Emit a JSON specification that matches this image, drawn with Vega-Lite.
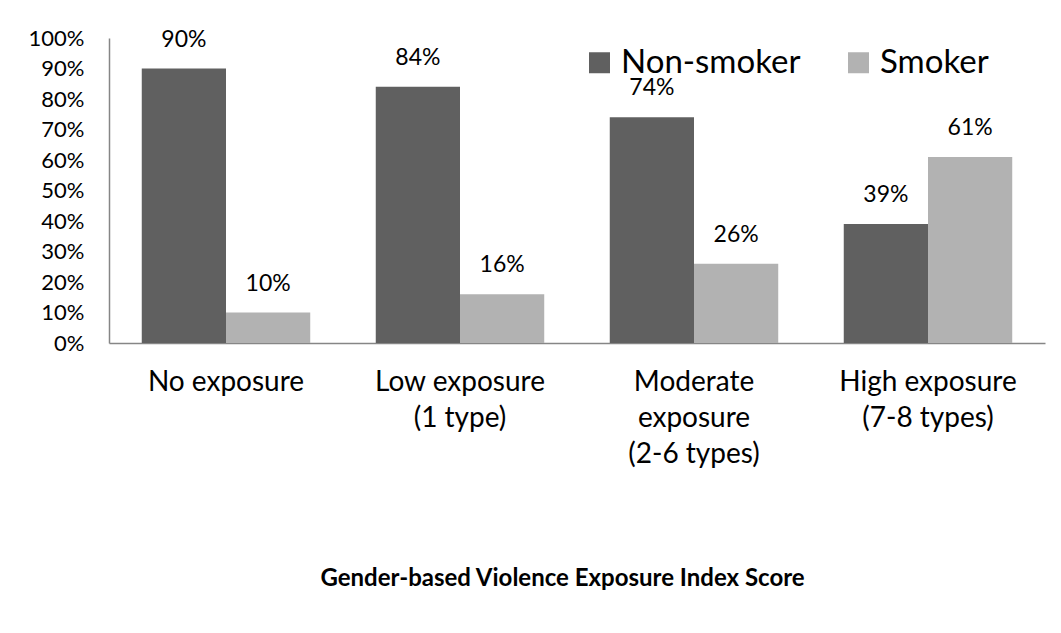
{
  "$schema": "https://vega.github.io/schema/vega-lite/v6.json",
  "autosize": "none",
  "width": 936,
  "height": 305,
  "padding": {"left": 109, "top": 38, "right": 16, "bottom": 290},
  "background": "white",
  "config": {
    "view": {"stroke": null},
    "font": "Lato"
  },
  "data": {
    "values": [
      {"category": "No exposure", "group": "Non-smoker", "value": 0.90},
      {"category": "No exposure", "group": "Smoker", "value": 0.10},
      {"category": "Low exposure (1 type)", "group": "Non-smoker", "value": 0.84},
      {"category": "Low exposure (1 type)", "group": "Smoker", "value": 0.16},
      {"category": "Moderate exposure (2-6 types)", "group": "Non-smoker", "value": 0.74},
      {"category": "Moderate exposure (2-6 types)", "group": "Smoker", "value": 0.26},
      {"category": "High exposure (7-8 types)", "group": "Non-smoker", "value": 0.39},
      {"category": "High exposure (7-8 types)", "group": "Smoker", "value": 0.61}
    ]
  },
  "encoding": {
    "x": {
      "field": "category",
      "type": "nominal",
      "sort": null,
      "scale": {"paddingInner": 0.28, "paddingOuter": 0.14},
      "axis": {
        "labelAngle": 0,
        "ticks": false,
        "domainColor": "#868686",
        "domainWidth": 1.5,
        "labelFont": "Lato",
        "labelFontSize": 28,
        "labelColor": "#000000",
        "labelPadding": 25,
        "labelLineHeight": 36,
        "labelBaseline": "top",
        "labelLimit": 0,
        "labelExpr": "datum.value == 'Low exposure (1 type)' ? ['Low exposure', '(1 type)'] : datum.value == 'Moderate exposure (2-6 types)' ? ['Moderate', 'exposure', '(2-6 types)'] : datum.value == 'High exposure (7-8 types)' ? ['High exposure', '(7-8 types)'] : datum.value",
        "title": "Gender-based Violence Exposure Index Score",
        "titleFont": "Lato",
        "titleFontSize": 24,
        "titleFontWeight": "bold",
        "titleColor": "#000000",
        "titleX": 453,
        "titleY": 242,
        "titleBaseline": "alphabetic",
        "titleAnchor": "middle"
      }
    },
    "xOffset": {"field": "group", "type": "nominal", "sort": ["Non-smoker", "Smoker"]},
    "y": {
      "field": "value",
      "type": "quantitative",
      "scale": {"domain": [0, 1], "nice": false},
      "axis": {
        "values": [0, 0.1, 0.2, 0.3, 0.4, 0.5, 0.6, 0.7, 0.8, 0.9, 1.0],
        "format": ".0%",
        "grid": false,
        "ticks": false,
        "domainColor": "#868686",
        "domainWidth": 1.5,
        "labelFont": "Lato",
        "labelFontSize": 22,
        "labelColor": "#000000",
        "labelPadding": 25,
        "title": null
      }
    }
  },
  "layer": [
    {
      "mark": {"type": "bar"},
      "encoding": {
        "color": {
          "field": "group",
          "type": "nominal",
          "scale": {"domain": ["Non-smoker", "Smoker"], "range": ["#606060", "#b2b2b2"]},
          "legend": {
            "title": null,
            "orient": "none",
            "direction": "horizontal",
            "legendX": 474,
            "legendY": 8,
            "padding": 0,
            "symbolType": "square",
            "symbolSize": 441,
            "symbolStrokeWidth": 0,
            "labelFont": "Lato",
            "labelFontSize": 33,
            "labelLimit": 0,
            "labelColor": "#000000",
            "labelOffset": 5,
            "columnPadding": 41
          }
        }
      }
    },
    {
      "mark": {"type": "text", "baseline": "bottom", "dy": -17, "font": "Lato", "fontSize": 23, "color": "#000000"},
      "encoding": {
        "text": {"field": "value", "type": "quantitative", "format": ".0%"}
      }
    }
  ]
}
